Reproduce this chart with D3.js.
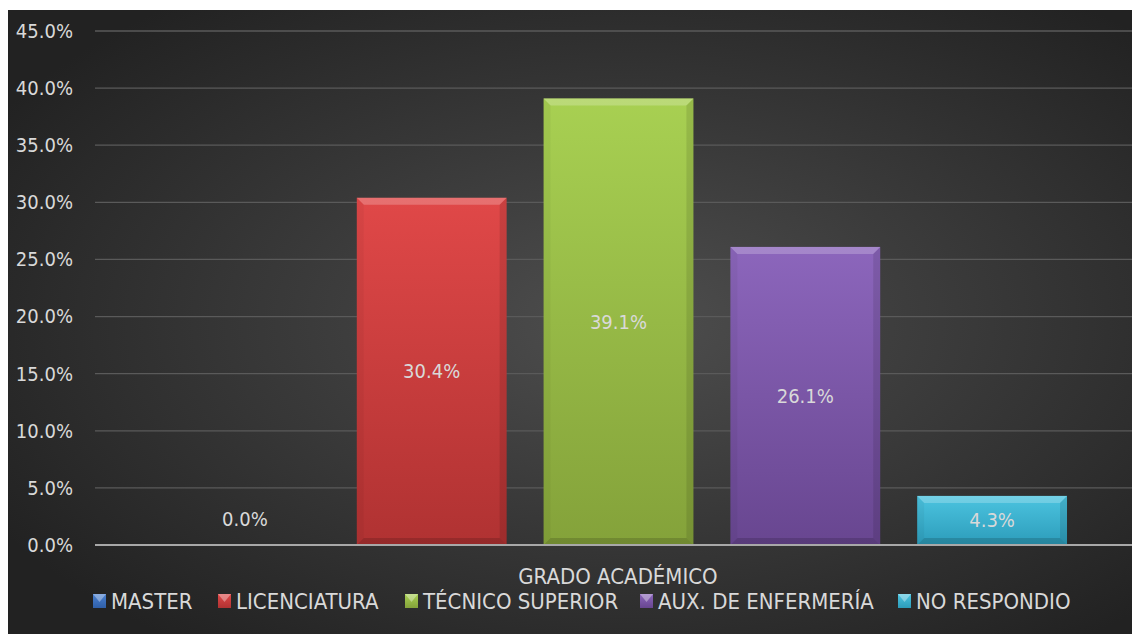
<!DOCTYPE html>
<html>
<head>
<meta charset="utf-8">
<script src="https://cdn.jsdelivr.net/npm/d3@7"></script>
<style>
  body { margin: 0; background: #fff; }
  text { font-family: "Liberation Sans Narrow", "DejaVu Sans Condensed", "Open Sans", sans-serif; fill: #d9d9d9; }
</style>
</head>
<body>
<svg width="1132" height="634"></svg>
<script>
// data
let series = ["MASTER", "LICENCIATURA", "TÉCNICO SUPERIOR", "AUX. DE ENFERMERÍA", "NO RESPONDIO"];
let values = [0.0, 30.4, 39.1, 26.1, 4.3];
let topColors = ["#4a80d0", "#e04848", "#a8d052", "#8c66bc", "#4cc4e0"];
let bottomColors = ["#2f5fa8", "#b03232", "#84a23a", "#684690", "#2c9cba"];
let yTicks = [0, 5, 10, 15, 20, 25, 30, 35, 40, 45];
let categoryLabel = "GRADO ACADÉMICO";

let svg = d3.select("svg");
let width = +svg.attr("width");
let height = +svg.attr("height");

let defs = svg.append("defs");

// chart background, dark radial
let bg = defs.append("radialGradient").attr("id", "bg")
    .attr("cx", "55%").attr("cy", "50%").attr("r", "65%");
bg.append("stop").attr("offset", "0%").attr("stop-color", "#4e4e4e");
bg.append("stop").attr("offset", "100%").attr("stop-color", "#222222");

svg.append("rect")
    .attr("x", 8).attr("y", 10)
    .attr("width", width - 8).attr("height", height - 10)
    .attr("fill", "url(#bg)");

let y = d3.scaleLinear().domain([0, 45]).range([545, 31]);
let x = d3.scaleBand().domain(series)
    .range([151.5, 1085.5])
    .paddingInner(0.198)
    .paddingOuter(0.099);

// gridlines
svg.append("g")
    .selectAll("line")
    .data(yTicks.filter((d) => d > 0))
    .enter()
    .append("line")
    .attr("x1", 95).attr("x2", width)
    .attr("y1", (d) => y(d)).attr("y2", (d) => y(d))
    .attr("stroke", "#5a5a5a")
    .attr("stroke-width", 1.3);

// y axis labels
let yAxis = d3.axisLeft(y).tickValues(yTicks).tickSize(0).tickPadding(0)
    .tickFormat((d) => d.toFixed(1) + "%");
svg.append("g")
    .attr("transform", "translate(73,0)")
    .call(yAxis)
    .call((g) => g.select(".domain").remove())
    .selectAll("text")
    .attr("fill", "#d9d9d9")
    .style("font-size", "20px");

// bar gradients
series.forEach((s, i) => {
    let g = defs.append("linearGradient").attr("id", "bar" + i)
        .attr("x1", 0).attr("y1", 0).attr("x2", 0).attr("y2", 1);
    g.append("stop").attr("offset", "0%").attr("stop-color", topColors[i]);
    g.append("stop").attr("offset", "100%").attr("stop-color", bottomColors[i]);
});

let bev = 7;
let bars = svg.append("g")
    .selectAll("g")
    .data(values.map((v, i) => ({ name: series[i], value: v, i: i })))
    .enter()
    .append("g")
    .filter((d) => d.value > 0);

bars.append("rect")
    .attr("x", (d) => x(d.name))
    .attr("y", (d) => y(d.value))
    .attr("width", x.bandwidth())
    .attr("height", (d) => y(0) - y(d.value))
    .attr("fill", (d) => "url(#bar" + d.i + ")");

// bevel edges
function bevel(d, side) {
    let x0 = x(d.name), x1 = x0 + x.bandwidth();
    let y0 = y(d.value), y1 = y(0);
    let b = Math.min(bev, (y1 - y0) / 2);
    if (side === "top") return [[x0, y0], [x1, y0], [x1 - b, y0 + b], [x0 + b, y0 + b]];
    if (side === "left") return [[x0, y0], [x0 + b, y0 + b], [x0 + b, y1 - b], [x0, y1]];
    if (side === "right") return [[x1, y0], [x1, y1], [x1 - b, y1 - b], [x1 - b, y0 + b]];
    return [[x0, y1], [x0 + b, y1 - b], [x1 - b, y1 - b], [x1, y1]];
}
let bevelStyle = [
    ["top", "#ffffff", 0.22],
    ["left", "#000000", 0.04],
    ["right", "#000000", 0.1],
    ["bottom", "#000000", 0.15]
];
bevelStyle.forEach(([side, col, op]) => {
    bars.append("polygon")
        .attr("points", (d) => bevel(d, side).join(" "))
        .attr("fill", col)
        .attr("fill-opacity", op);
});

// zero axis
svg.append("line")
    .attr("x1", 95).attr("x2", width)
    .attr("y1", y(0)).attr("y2", y(0))
    .attr("stroke", "#a8a8a8")
    .attr("stroke-width", 2);

// value labels
svg.append("g")
    .selectAll("text")
    .data(values.map((v, i) => ({ name: series[i], value: v })))
    .enter()
    .append("text")
    .attr("x", (d) => x(d.name) + x.bandwidth() / 2)
    .attr("y", (d) => d.value > 0 ? (y(d.value) + y(0)) / 2 : y(0) - 26)
    .attr("dy", "0.35em")
    .attr("text-anchor", "middle")
    .style("font-size", "20px")
    .text((d) => d.value.toFixed(1) + "%");

// category title
svg.append("text")
    .attr("x", 618).attr("y", 576)
    .attr("dy", "0.35em")
    .attr("text-anchor", "middle")
    .style("font-size", "22px")
    .text(categoryLabel);

// legend
let legend = svg.append("g").attr("transform", "translate(0,601)");
let lx = [93, 218, 405, 640, 898];
series.forEach((s, i) => {
    let item = legend.append("g").attr("transform", "translate(" + lx[i] + ",0)");
    item.append("rect")
        .attr("x", 0).attr("y", -7)
        .attr("width", 13).attr("height", 14)
        .attr("fill", "url(#bar" + i + ")");
    item.append("polygon")
        .attr("points", "0,-7 13,-7 6.5,1")
        .attr("fill", "#fff").attr("fill-opacity", 0.35);
    item.append("text")
        .attr("x", 18).attr("dy", "0.35em")
        .style("font-size", "22px")
        .text(s);
});
</script>
</body>
</html>
